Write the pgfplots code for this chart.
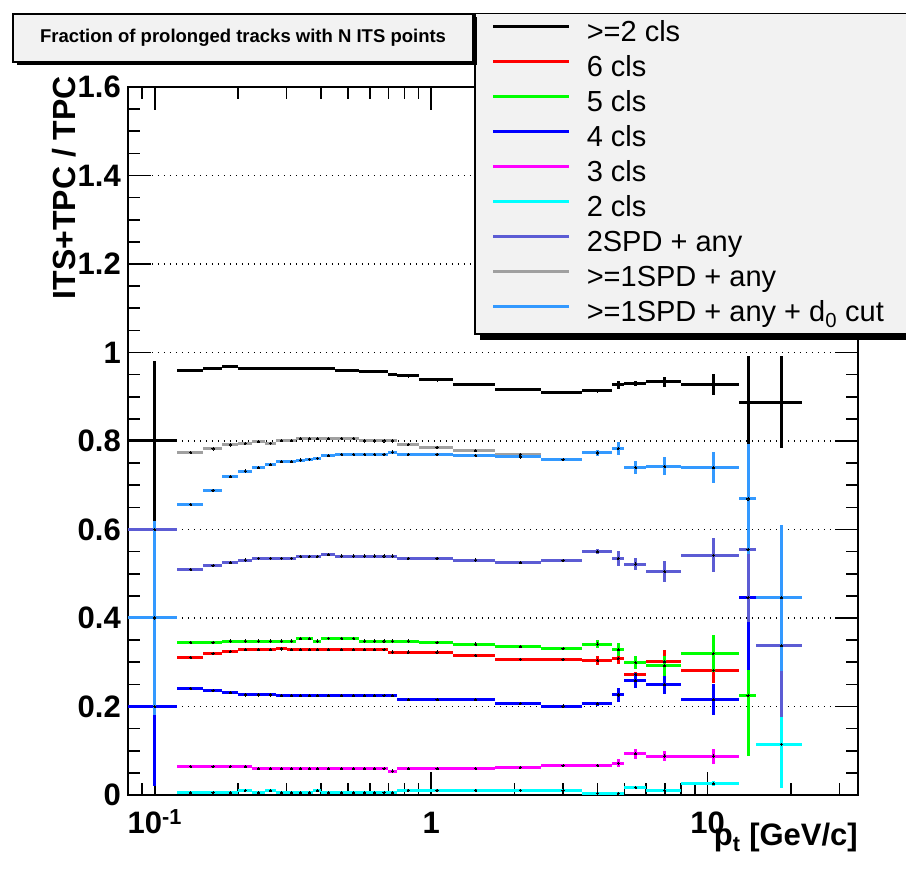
\documentclass[border=0pt]{standalone}
\usepackage{fontspec}
\setmainfont{Liberation Sans}
\usepackage{pgfplots}
\usepackage{pgfplotstable}
\pgfplotsset{compat=1.18}
\usetikzlibrary{shadows}
\definecolor{cRed}{RGB}{255,0,0}
\definecolor{cGreen}{RGB}{0,255,0}
\definecolor{cBlue}{RGB}{0,0,255}
\definecolor{cMag}{RGB}{255,0,255}
\definecolor{cCyan}{RGB}{0,255,255}
\definecolor{cSPD}{RGB}{92,92,212}
\definecolor{cGray}{RGB}{160,160,160}
\definecolor{cAz}{RGB}{51,153,255}
\definecolor{boxfill}{RGB}{242,242,242}

% columns: x (bin centre), y, ex (half bin width), ey (error)
\pgfplotstableread{
x y ex ey
0.1 0.800 0.02 0.18
0.135 0.960 0.015 0
0.1625 0.964 0.0125 0
0.1875 0.968 0.0125 0
0.2125 0.963 0.0125 0
0.2375 0.963 0.0125 0
0.2625 0.963 0.0125 0
0.2875 0.964 0.0125 0
0.3125 0.964 0.0125 0
0.3375 0.964 0.0125 0
0.3625 0.964 0.0125 0
0.3875 0.964 0.0125 0
0.425 0.964 0.025 0
0.475 0.960 0.025 0
0.525 0.960 0.025 0
0.575 0.957 0.025 0
0.625 0.957 0.025 0
0.675 0.957 0.025 0
0.725 0.951 0.025 0
0.825 0.947 0.075 0
1.05 0.938 0.15 0
1.45 0.927 0.25 0
2.1 0.917 0.4 0
3.0 0.909 0.5 0
4.0 0.913 0.5 0.003
4.75 0.927 0.25 0.009
5.5 0.930 0.5 0.006
7.0 0.934 1.0 0.011
10.5 0.928 2.5 0.023
14.0 0.888 1.0 0.104
18.5 0.888 3.5 0.104
}\tBlack

\pgfplotstableread{
x y ex ey
0.135 0.311 0.015 0
0.1625 0.320 0.0125 0
0.1875 0.324 0.0125 0
0.2125 0.328 0.0125 0
0.2375 0.328 0.0125 0
0.2625 0.328 0.0125 0
0.2875 0.330 0.0125 0
0.3125 0.328 0.0125 0
0.3375 0.328 0.0125 0
0.3625 0.328 0.0125 0
0.3875 0.328 0.0125 0
0.425 0.328 0.025 0
0.475 0.328 0.025 0
0.525 0.328 0.025 0
0.575 0.328 0.025 0
0.625 0.328 0.025 0
0.675 0.328 0.025 0
0.725 0.323 0.025 0
0.825 0.323 0.075 0
1.05 0.323 0.15 0
1.45 0.316 0.25 0
2.1 0.307 0.4 0
3.0 0.307 0.5 0
4.0 0.304 0.5 0.010
4.75 0.309 0.25 0.013
5.5 0.273 0.5 0.005
7.0 0.301 1.0 0.026
10.5 0.282 2.5 0.030
}\tRed

\pgfplotstableread{
x y ex ey
0.135 0.345 0.015 0
0.1625 0.345 0.0125 0
0.1875 0.348 0.0125 0
0.2125 0.348 0.0125 0
0.2375 0.348 0.0125 0
0.2625 0.348 0.0125 0
0.2875 0.348 0.0125 0
0.3125 0.348 0.0125 0
0.3375 0.353 0.0125 0
0.3625 0.353 0.0125 0
0.3875 0.348 0.0125 0
0.425 0.354 0.025 0
0.475 0.354 0.025 0
0.525 0.354 0.025 0
0.575 0.348 0.025 0
0.625 0.348 0.025 0
0.675 0.348 0.025 0
0.725 0.348 0.025 0
0.825 0.348 0.075 0
1.05 0.345 0.15 0
1.45 0.341 0.25 0
2.1 0.335 0.4 0
3.0 0.331 0.5 0
4.0 0.341 0.5 0.009
4.75 0.328 0.25 0.015
5.5 0.299 0.5 0.015
7.0 0.292 1.0 0.023
10.5 0.320 2.5 0.041
14.0 0.224 1.0 0.137
}\tGreen

\pgfplotstableread{
x y ex ey
0.1 0.200 0.02 0.18
0.135 0.241 0.015 0
0.1625 0.236 0.0125 0
0.1875 0.231 0.0125 0
0.2125 0.226 0.0125 0
0.2375 0.226 0.0125 0
0.2625 0.226 0.0125 0
0.2875 0.224 0.0125 0
0.3125 0.224 0.0125 0
0.3375 0.224 0.0125 0
0.3625 0.224 0.0125 0
0.3875 0.224 0.0125 0
0.425 0.224 0.025 0
0.475 0.224 0.025 0
0.525 0.224 0.025 0
0.575 0.224 0.025 0
0.625 0.224 0.025 0
0.675 0.224 0.025 0
0.725 0.224 0.025 0
0.825 0.215 0.075 0
1.05 0.215 0.15 0
1.45 0.215 0.25 0
2.1 0.207 0.4 0
3.0 0.201 0.5 0
4.0 0.206 0.5 0.004
4.75 0.226 0.25 0.015
5.5 0.258 0.5 0.017
7.0 0.249 1.0 0.021
10.5 0.215 2.5 0.035
14.0 0.446 1.0 0.164
}\tBlue

\pgfplotstableread{
x y ex ey
0.135 0.064 0.015 0
0.1625 0.064 0.0125 0
0.1875 0.064 0.0125 0
0.2125 0.064 0.0125 0
0.2375 0.059 0.0125 0
0.2625 0.059 0.0125 0
0.2875 0.059 0.0125 0
0.3125 0.059 0.0125 0
0.3375 0.059 0.0125 0
0.3625 0.059 0.0125 0
0.3875 0.059 0.0125 0
0.425 0.059 0.025 0
0.475 0.059 0.025 0
0.525 0.059 0.025 0
0.575 0.059 0.025 0
0.625 0.059 0.025 0
0.675 0.059 0.025 0
0.725 0.054 0.025 0
0.825 0.059 0.075 0
1.05 0.059 0.15 0
1.45 0.060 0.25 0
2.1 0.062 0.4 0
3.0 0.066 0.5 0
4.0 0.067 0.5 0
4.75 0.072 0.25 0.009
5.5 0.093 0.5 0.011
7.0 0.088 1.0 0.011
10.5 0.088 2.5 0.017
}\tMag

\pgfplotstableread{
x y ex ey
0.135 0.005 0.015 0
0.1625 0.005 0.0125 0
0.1875 0.005 0.0125 0
0.2125 0.010 0.0125 0
0.2375 0.005 0.0125 0
0.2625 0.010 0.0125 0
0.2875 0.005 0.0125 0
0.3125 0.005 0.0125 0
0.3375 0.005 0.0125 0
0.3625 0.005 0.0125 0
0.3875 0.010 0.0125 0
0.425 0.005 0.025 0
0.475 0.005 0.025 0
0.525 0.005 0.025 0
0.575 0.005 0.025 0
0.625 0.005 0.025 0
0.675 0.005 0.025 0
0.725 0.005 0.025 0
0.825 0.011 0.075 0
1.05 0.011 0.15 0
1.45 0.011 0.25 0
2.1 0.011 0.4 0
3.0 0.010 0.5 0
4.0 0.004 0.5 0
4.75 0.004 0.25 0
5.5 0.017 0.5 0.004
7.0 0.010 1.0 0
10.5 0.026 2.5 0.006
18.5 0.115 3.5 0.100
}\tCyan

\pgfplotstableread{
x y ex ey
0.1 0.600 0.02 0
0.135 0.510 0.015 0
0.1625 0.518 0.0125 0
0.1875 0.525 0.0125 0
0.2125 0.531 0.0125 0
0.2375 0.535 0.0125 0
0.2625 0.535 0.0125 0
0.2875 0.535 0.0125 0
0.3125 0.535 0.0125 0
0.3375 0.539 0.0125 0
0.3625 0.539 0.0125 0
0.3875 0.539 0.0125 0
0.425 0.543 0.025 0
0.475 0.540 0.025 0
0.525 0.540 0.025 0
0.575 0.540 0.025 0
0.625 0.540 0.025 0
0.675 0.540 0.025 0
0.725 0.540 0.025 0
0.825 0.535 0.075 0
1.05 0.535 0.15 0
1.45 0.531 0.25 0
2.1 0.525 0.4 0
3.0 0.530 0.5 0
4.0 0.550 0.5 0.006
4.75 0.535 0.25 0.017
5.5 0.522 0.5 0.014
7.0 0.505 1.0 0.024
10.5 0.542 2.5 0.039
14.0 0.555 1.0 0.164
18.5 0.337 3.5 0.160
}\tSPD

\pgfplotstableread{
x y ex ey
0.135 0.774 0.015 0
0.1625 0.782 0.0125 0
0.1875 0.791 0.0125 0
0.2125 0.795 0.0125 0
0.2375 0.798 0.0125 0
0.2625 0.795 0.0125 0
0.2875 0.801 0.0125 0
0.3125 0.801 0.0125 0
0.3375 0.805 0.0125 0
0.3625 0.805 0.0125 0
0.3875 0.805 0.0125 0
0.425 0.805 0.025 0
0.475 0.806 0.025 0
0.525 0.806 0.025 0
0.575 0.800 0.025 0
0.625 0.800 0.025 0
0.675 0.800 0.025 0
0.725 0.800 0.025 0
0.825 0.792 0.075 0
1.05 0.786 0.15 0
1.45 0.778 0.25 0
2.1 0.770 0.4 0
}\tGray

\pgfplotstableread{
x y ex ey
0.1 0.400 0.02 0.22
0.135 0.657 0.015 0
0.1625 0.689 0.0125 0
0.1875 0.719 0.0125 0
0.2125 0.732 0.0125 0
0.2375 0.740 0.0125 0
0.2625 0.746 0.0125 0
0.2875 0.753 0.0125 0
0.3125 0.753 0.0125 0
0.3375 0.757 0.0125 0
0.3625 0.759 0.0125 0
0.3875 0.761 0.0125 0
0.425 0.767 0.025 0
0.475 0.770 0.025 0
0.525 0.770 0.025 0
0.575 0.770 0.025 0
0.625 0.770 0.025 0
0.675 0.770 0.025 0
0.725 0.775 0.025 0
0.825 0.770 0.075 0
1.05 0.770 0.15 0
1.45 0.767 0.25 0
2.1 0.764 0.4 0
3.0 0.758 0.5 0
4.0 0.773 0.5 0.006
4.75 0.783 0.25 0.015
5.5 0.740 0.5 0.014
7.0 0.743 1.0 0.020
10.5 0.740 2.5 0.036
14.0 0.669 1.0 0.125
18.5 0.446 3.5 0.165
}\tAz

\pgfplotsset{
  hist/.style={only marks, forget plot, mark=*, mark size=1.1pt,
    mark options={draw=black, fill=black, line width=0pt},
    error bars/.cd, x dir=both, x explicit, y dir=both, y explicit,
    error mark=none, error bar style={line width=3pt, color=#1}},
}

\begin{document}
\begin{tikzpicture}[x=1pt,y=1pt]
\useasboundingbox (0,0) rectangle (906,872);
% shadow of the legend box (ROOT style)
\fill[black] (480,532) rectangle (940,853);
\begin{axis}[
  at={(128pt,77pt)}, anchor=south west,
  scale only axis, width=730pt, height=708pt,
  xmode=log, xmin=0.08, xmax=35, ymin=0, ymax=1.6,
  axis line style={line width=2pt},
  tick style={line width=1.6pt, black},
  major tick length=23pt, minor tick length=12pt,
  tick align=inside,
  xtick={0.1,1,10},
  xticklabels={10\textsuperscript{-1},1,10},
  minor xtick={0.08,0.09,0.2,0.3,0.4,0.5,0.6,0.7,0.8,0.9,2,3,4,5,6,7,8,9,20,30},
  ytick={0,0.2,0.4,0.6,0.8,1,1.2,1.4,1.6},
  yticklabels={0,0.2,0.4,0.6,0.8,1,1.2,1.4,1.6},
  minor y tick num=3,
  every tick label/.append style={inner sep=0pt, font=\fontsize{31}{31}\selectfont\bfseries},
  xticklabel style={anchor=base, yshift=-39pt},
  yticklabel style={anchor=east, xshift=-7pt},
  ymajorgrids,
  grid style={black, line width=1.4pt, dash pattern=on 1.4pt off 4.6pt},
  legend image code/.code={\draw[#1] (0pt,7.5pt) -- (76pt,7.5pt); \path (0pt,0pt);},
  legend cell align=left,
  legend style={at={(axis description cs:0.474,1.1045)}, anchor=north west,
    draw=black, line width=1.5pt, fill=boxfill,
    font=\fontsize{29}{34}\selectfont,
    inner xsep=17pt, inner ysep=7pt, row sep=9pt, column sep=16pt,
    nodes={inner sep=0pt, text height=21pt, text depth=5pt}},
]
\addplot[hist=black] table[x=x,y=y,x error=ex,y error=ey] {\tBlack};
\addplot[hist=cRed] table[x=x,y=y,x error=ex,y error=ey] {\tRed};
\addplot[hist=cGreen] table[x=x,y=y,x error=ex,y error=ey] {\tGreen};
\addplot[hist=cBlue] table[x=x,y=y,x error=ex,y error=ey] {\tBlue};
\addplot[hist=cMag] table[x=x,y=y,x error=ex,y error=ey] {\tMag};
\addplot[hist=cCyan] table[x=x,y=y,x error=ex,y error=ey] {\tCyan};
\addplot[hist=cSPD] table[x=x,y=y,x error=ex,y error=ey] {\tSPD};
\addplot[hist=cGray] table[x=x,y=y,x error=ex,y error=ey] {\tGray};
\addplot[hist=cAz] table[x=x,y=y,x error=ex,y error=ey] {\tAz};

\addlegendimage{line width=3pt, color=black}
\addlegendentry{>=2 cls}
\addlegendimage{line width=3pt, color=cRed}
\addlegendentry{6 cls}
\addlegendimage{line width=3pt, color=cGreen}
\addlegendentry{5 cls}
\addlegendimage{line width=3pt, color=cBlue}
\addlegendentry{4 cls}
\addlegendimage{line width=3pt, color=cMag}
\addlegendentry{3 cls}
\addlegendimage{line width=3pt, color=cCyan}
\addlegendentry{2 cls}
\addlegendimage{line width=3pt, color=cSPD}
\addlegendentry{2SPD + any}
\addlegendimage{line width=3pt, color=cGray}
\addlegendentry{>=1SPD + any}
\addlegendimage{line width=3pt, color=cAz}
\addlegendentry{>=1SPD + any + d\textsubscript{0} cut\hspace*{30pt}}
\end{axis}

\node[draw=black, line width=1.5pt, fill=boxfill, minimum width=460pt, minimum height=48pt,
      inner sep=0pt, font=\fontsize{18.5}{20}\selectfont\bfseries,
      drop shadow={shadow xshift=4pt, shadow yshift=-3pt, fill=black, opacity=1}]
      at (243,834) {Fraction of prolonged tracks with N ITS points};

\node[rotate=90, anchor=base east, inner sep=0pt, font=\fontsize{32}{32}\selectfont\bfseries]
      at (75,796) {ITS+TPC / TPC};

\node[anchor=base east, inner sep=0pt, font=\fontsize{31}{31}\selectfont\bfseries]
      at (858,26) {p\textsubscript{t} [GeV/c]};
\end{tikzpicture}
\end{document}
